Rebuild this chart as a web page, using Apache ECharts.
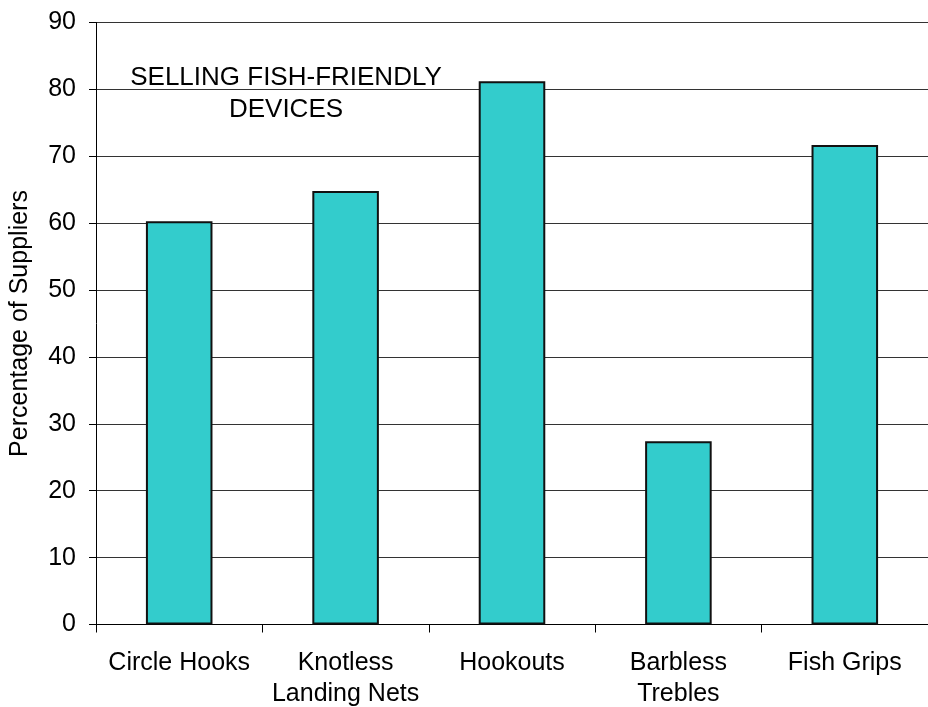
<!DOCTYPE html>
<html><head><meta charset="utf-8">
<script src="https://cdn.jsdelivr.net/npm/echarts@6/dist/echarts.min.js"></script>
<style>html,body{margin:0;padding:0;background:#fff}#c{width:928px;height:707px}</style>
</head><body><div id="c"></div>
<script>
const categories = ['Circle Hooks', 'Knotless\nLanding Nets', 'Hookouts', 'Barbless\nTrebles', 'Fish Grips'];
const values = [60.3, 64.8, 81.2, 27.4, 71.7];
const yTicks = [0, 10, 20, 30, 40, 50, 60, 70, 80, 90];

const chart = echarts.init(document.getElementById('c'), null, {renderer: 'canvas'});
const font = 'Arial, "Liberation Sans", sans-serif';
const fs = 25;
chart.setOption({
  animation: false,
  backgroundColor: '#fff',
  title: {
    text: 'SELLING FISH-FRIENDLY\nDEVICES',
    left: 281, top: 57, textAlign: 'center',
    textStyle: {fontFamily: font, fontSize: 26, fontWeight: 'normal', color: '#000', lineHeight: 32, align: 'center'}
  },
  grid: {left: 96, right: 0, top: 22.5, bottom: 82.5, containLabel: false, outerBoundsMode: 'none'},
  xAxis: {
    type: 'category', data: categories,
    axisLine: {lineStyle: {color: '#000', width: 1}},
    axisTick: {show: true, length: 8, interval: 0, lineStyle: {color: '#000'}},
    axisLabel: {fontFamily: font, fontSize: fs, color: '#000', margin: 23, lineHeight: 31, interval: 0}
  },
  yAxis: {
    type: 'value', min: yTicks[0], max: yTicks[yTicks.length-1], interval: 10,
    name: 'Percentage of Suppliers', nameLocation: 'middle', nameGap: 63,
    nameTextStyle: {fontFamily: font, fontSize: fs, color: '#000'},
    axisLine: {show: true, lineStyle: {color: '#000', width: 1}},
    axisTick: {show: true, length: 7, lineStyle: {color: '#000'}},
    axisLabel: {fontFamily: font, fontSize: fs, color: '#000', margin: 20},
    splitLine: {show: true, lineStyle: {color: '#333', width: 1}}
  },
  series: [{
    type: 'bar', data: values, barWidth: '40%',
    itemStyle: {color: '#33CCCC', borderColor: '#111', borderWidth: 2}
  }]
});
</script></body></html>
